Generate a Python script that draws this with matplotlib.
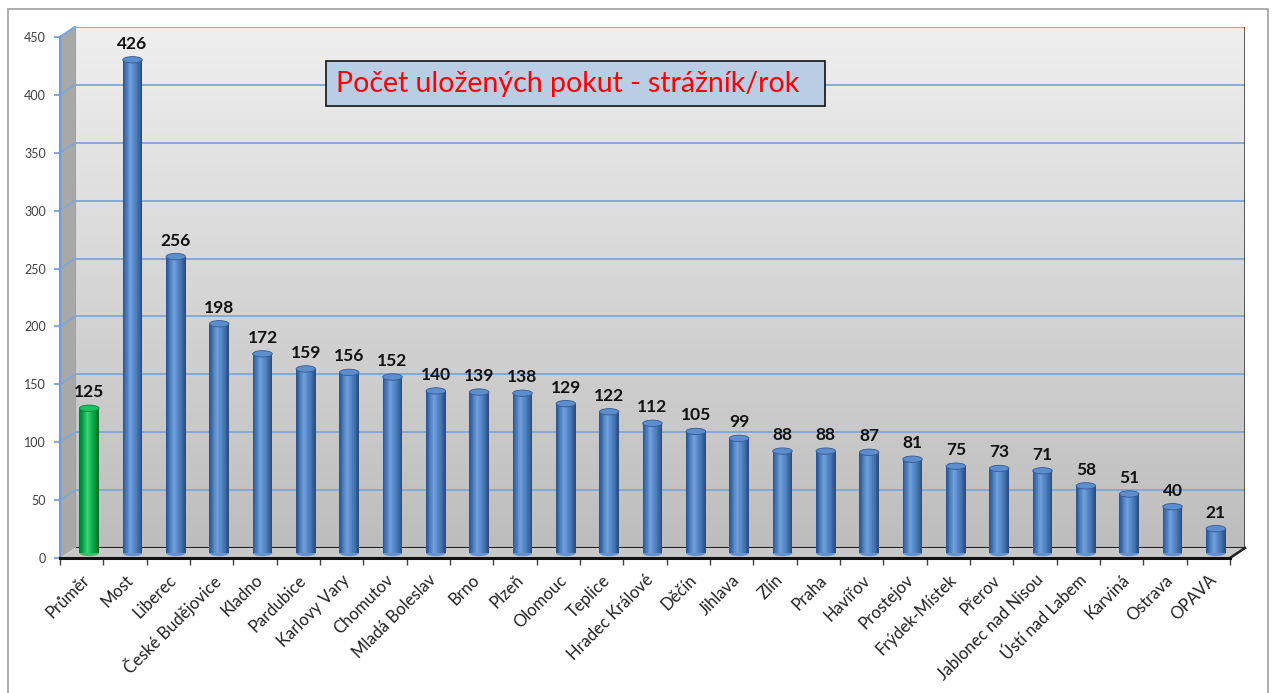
import numpy as np
import matplotlib
matplotlib.use("Agg")
import matplotlib.pyplot as plt
from matplotlib.colors import LinearSegmentedColormap
from matplotlib.patches import Ellipse, Polygon, Rectangle
from matplotlib.transforms import ScaledTranslation, IdentityTransform

# data
cities = ["Průměr", "Most", "Liberec", "České Budějovice", "Kladno", "Pardubice",
          "Karlovy Vary", "Chomutov", "Mladá Boleslav", "Brno", "Plzeň", "Olomouc",
          "Teplice", "Hradec Králové", "Děčín", "Jihlava", "Zlín", "Praha", "Havířov",
          "Prostejov", "Frýdek-Místek", "Přerov", "Jablonec nad Nisou",
          "Ústí nad Labem", "Karviná", "Ostrava", "OPAVA"]
fines = [125, 426, 256, 198, 172, 159, 156, 152, 140, 139, 138, 129, 122, 112,
         105, 99, 88, 88, 87, 81, 75, 73, 71, 58, 51, 40, 21]
yticks = [0, 50, 100, 150, 200, 250, 300, 350, 400, 450]
title = "Počet uložených pokut - strážník/rok"

plt.rcParams["font.family"] = ["Lato", "DejaVu Sans"]

W, H = 1273, 693
fig = plt.figure(figsize=(W / 100, H / 100), dpi=100)
fig.patch.set_facecolor("white")

# outer frame
fig.add_artist(Rectangle((8 / W, -0.01), 1260 / W, (H - 9) / H + 0.01,
                         transform=fig.transFigure, fill=False,
                         edgecolor="#a0a0a0", lw=1.2))

pos = [60 / W, 135 / H, 1170 / W, 521 / H]
dx, dy = 15, 10   # depth offset in pixels

ax_back = fig.add_axes([pos[0] + dx / W, pos[1] + dy / H, pos[2], pos[3]], zorder=0)
ax = fig.add_axes(pos, zorder=1)
n = len(cities)
for a in (ax, ax_back):
    a.set_xlim(-0.5, n - 0.5)
    a.set_ylim(0, 450)

# back wall with gradient and grid
grad = np.linspace(0, 1, 256).reshape(-1, 1)
wall_cmap = LinearSegmentedColormap.from_list("wall", ["#efefef", "#bdbdbd"])
ax_back.imshow(grad, cmap=wall_cmap, aspect="auto", extent=[-0.5, n - 0.5, 0, 450],
               origin="upper", zorder=0)
for y in yticks[1:]:
    ax_back.axhline(y, color="#7ea6d8", lw=1.3, zorder=1)
ax_back.axhline(0, color="#202020", lw=1.5, zorder=1)
ax_back.axvline(-0.5, color="#7ea6d8", lw=1.5, zorder=1)
ax_back.axvline(n - 0.5, color="#303030", lw=1.8, zorder=1)
ax_back.set_xticks([])
ax_back.set_yticks([])
for s in ax_back.spines.values():
    s.set_visible(False)

# side wall and floor
def px(x, y):
    return ax.transData.transform((x, y))

x0, x1 = -0.5, n - 0.5
p0, p1, p2 = px(x0, 0), px(x0, 450), px(x1, 0)
off = np.array([dx, dy])
side = Polygon([p0, p1, p1 + off, p0 + off], closed=True, transform=IdentityTransform(),
               facecolor="#a8a8a8", edgecolor="none", zorder=0.5)
floor = Polygon([p0, p2, p2 + off, p0 + off], closed=True, transform=IdentityTransform(),
                facecolor="#c8c8c8", edgecolor="none", zorder=0.5)
fig.add_artist(side)
fig.add_artist(floor)
for y in yticks[1:]:
    q = px(x0, y)
    fig.add_artist(plt.Line2D([q[0], q[0] + dx], [q[1], q[1] + dy],
                              transform=IdentityTransform(), color="#7ea6d8", lw=1.3, zorder=0.6))
fig.add_artist(plt.Line2D([p2[0], p2[0] + dx], [p2[1], p2[1] + dy],
                          transform=IdentityTransform(), color="#202020", lw=1.8, zorder=0.6))
fig.add_artist(plt.Line2D([p1[0], p1[0] + dx], [p1[1], p1[1] + dy],
                          transform=IdentityTransform(), color="#7ea6d8", lw=1.5, zorder=0.6))

ax.patch.set_visible(False)
for s in ("top", "right"):
    ax.spines[s].set_visible(False)
ax.spines["left"].set_color("#6f9bd3")
ax.spines["left"].set_linewidth(1.5)
ax.spines["bottom"].set_color("#111111")
ax.spines["bottom"].set_linewidth(2.2)

# cylinders
mid = ax.transData + ScaledTranslation(dx / 200, dy / 200, fig.dpi_scale_trans)
blue = LinearSegmentedColormap.from_list(
    "b", ["#2c5189", "#4a7dbd", "#72a0db", "#5588c8", "#3f6faa", "#28497e"])
green = LinearSegmentedColormap.from_list(
    "g", ["#007a2e", "#00a646", "#3fd47a", "#12b854", "#009a3e", "#006a28"])
colors = [green] + [blue] * (n - 1)
bw = 0.45
strips = 24
xs = np.arange(n)
for k in range(strips):
    t = (k + 0.5) / strips
    ax.bar(xs - bw / 2 + t * bw, fines, width=bw / strips * 1.05,
           color=[c(t) for c in colors], transform=mid, zorder=3, lw=0)
eh = 5.5
for i, v in enumerate(fines):
    cm = colors[i]
    ax.add_patch(Ellipse((i, 0), bw, eh, transform=mid, facecolor=cm(0.5),
                         edgecolor="none", zorder=2.9))
    ax.add_patch(Ellipse((i, v), bw, eh, transform=mid, facecolor=cm(0.55),
                         edgecolor=cm(0.05), lw=0.6, zorder=3.1))
    ax.text(i, v + 7, str(v), transform=mid, ha="center", va="bottom",
            fontsize=12.5, fontweight="bold", color="#111111", zorder=4)

# ticks
ax.set_yticks(yticks)
ax.set_yticklabels([str(y) for y in yticks], fontsize=9, color="#404040")
ax.tick_params(axis="y", length=4, color="#6f9bd3", width=1.2, pad=6)
ax.set_xticks(np.arange(n + 1) - 0.5)
ax.set_xticklabels([])
ax.tick_params(axis="x", which="major", length=5, color="#404040", width=1)
ax.set_xticks(xs, minor=True)
ax.set_xticklabels(cities, minor=True, rotation=45, ha="right",
                   rotation_mode="anchor", fontsize=12, color="#222222")
ax.tick_params(axis="x", which="minor", length=0, pad=10)

# title box
ax.add_patch(Rectangle((0.2274, 0.8676), 0.4265, 0.0864, transform=ax.transAxes,
                       facecolor="#b9cde5", edgecolor="#111111", lw=1.2, zorder=5))
ax.text(0.2359, 0.9098, title, transform=ax.transAxes, ha="left", va="center",
        fontsize=20.5, color="#ff0000", zorder=6)

fig.savefig("out.png", dpi=100)
